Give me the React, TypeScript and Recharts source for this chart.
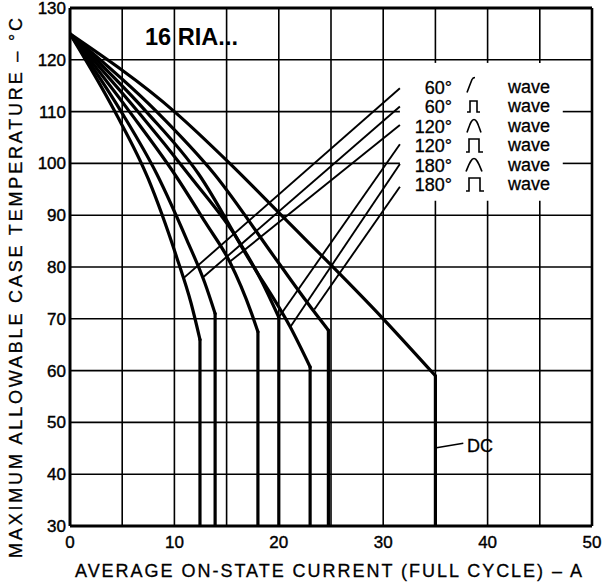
import React from 'react';
import { LineChart, Line, XAxis, YAxis, ReferenceLine } from 'recharts';

const xTicks = [0, 10, 20, 30, 40, 50];
const yTicks = [30, 40, 50, 60, 70, 80, 90, 100, 110, 120, 130];
const gridX = [5, 10, 15, 20, 25, 30, 35, 40, 45];
const gridY = [40, 50, 60, 70, 80, 90, 100, 110, 120];

// Curves: average on-state current (A) vs max case temperature (°C); last point = foot of vertical drop
const sine60I = [0, 4.3, 7.5, 10.2, 11.6, 12.45, 12.45];
const sine60T = [125, 110, 97, 82, 73, 66, 30];
const rect60I = [0, 4.9, 8.3, 11.2, 12.9, 13.9, 13.9];
const rect60T = [125, 110, 98, 85.2, 77, 71, 30];
const sine120I = [0, 5.7, 10, 13, 15.3, 17.4, 18, 18];
const sine120T = [125, 110, 98, 88.5, 81, 71, 67.5, 30];
const rect120I = [0, 6.5, 11.5, 16.1, 18.3, 20, 20];
const rect120T = [125, 110, 97.5, 85.2, 77.5, 70.3, 30];
const sine180I = [0, 7.3, 12.3, 17.2, 21.1, 23, 23];
const sine180T = [125, 110, 98, 81.3, 68.4, 60.7, 30];
const rect180I = [0, 8.3, 13.8, 19.8, 23.3, 24.75, 24.75];
const rect180T = [125, 110, 98, 81.3, 71.6, 67.8, 30];
const dcI = [0, 10, 15.3, 20, 30, 35, 35];
const dcT = [125, 110, 100, 90.5, 70, 59, 30];

// Leader lines from the labels to the curves
const leaderStartI = 31.6;
const leaderStartT = [114.5, 111, 107.4, 103.7, 99.9, 95.5];
const leaderEndI = [10.85, 12.8, 15.3, 20.0, 21.1, 23.4];
const leaderEndT = [77.8, 78.1, 81, 70.3, 68.4, 71.8];

const angleLabels = ['60°', '60°', '120°', '120°', '180°', '180°'];
const waveWord = 'wave';

// label box (data coords) that interrupts the grid
const boxI = [31.6, 47.2];
const boxT = [92.8, 119.4];

const toPts = (I: number[], T: number[]) => I.map((i, k) => ({ i, t: T[k] }));
const curveSets = [
  [sine60I, sine60T],
  [rect60I, rect60T],
  [sine120I, sine120T],
  [rect120I, rect120T],
  [sine180I, sine180T],
  [rect180I, rect180T],
  [dcI, dcT],
];
// sloped part (smooth) and vertical drop (straight)
const slopedParts = curveSets.map(([I, T]) => toPts(I.slice(0, -1), T.slice(0, -1)));
const dropParts = curveSets.map(([I, T]) => toPts(I.slice(-2), T.slice(-2)));
const leaders = leaderStartT.map((t, k) => [
  { i: leaderStartI, t },
  { i: leaderEndI[k], t: leaderEndT[k] },
]);

const FONT = '"Liberation Sans", Arial, Helvetica, sans-serif';

const rowCY = [87.5, 107, 126.5, 146, 165.5, 185];
const glyphs = [
  (c: number) => `M467,${c + 5} Q470,${c - 3} 472,${c - 8} Q473,${c - 10} 475,${c - 10}`,
  (c: number) => `M467,${c + 5} L470,${c + 5} L470,${c - 6} L477,${c - 6} L477,${c + 5} L480,${c + 5}`,
  (c: number) => `M467,${c + 6} C470,${c - 2} 471,${c - 7} 474,${c - 7} C477,${c - 7} 478,${c - 2} 481,${c + 6}`,
  (c: number) => `M466,${c + 6} L469,${c + 6} L469,${c - 7} L479,${c - 7} L479,${c + 6} L483,${c + 6}`,
  (c: number) => `M466,${c + 6} C469,${c - 1} 471,${c - 7} 474,${c - 7} C477,${c - 7} 479,${c - 1} 482,${c + 6}`,
  (c: number) => `M466,${c + 6} L469,${c + 6} L469,${c - 7} L480,${c - 7} L480,${c + 6} L484,${c + 6}`,
];

const gridStroke = { stroke: '#000', strokeWidth: 1.6 };
const textInk = { fill: '#000', stroke: '#000', strokeWidth: 0.4 };

export default function App() {
  return (
    <div style={{ position: 'absolute', left: 0, top: 0, width: 604, height: 584, background: '#fff', fontFamily: FONT }}>
      <LineChart width={604} height={584} margin={{ top: 8, right: 12, left: 0, bottom: 0 }}>
        <XAxis
          dataKey="i"
          type="number"
          domain={[0, 50]}
          ticks={xTicks}
          interval={0}
          height={58}
          tickLine={false}
          tickSize={0}
          tickMargin={10}
          axisLine={{ stroke: '#000', strokeWidth: 3 }}
          tick={{ ...textInk, fontSize: 17, fontFamily: FONT }}
          allowDataOverflow
        />
        <YAxis
          type="number"
          domain={[30, 130]}
          ticks={yTicks}
          interval={0}
          width={70}
          tickLine={false}
          tickSize={0}
          tickMargin={4}
          axisLine={{ stroke: '#000', strokeWidth: 3 }}
          tick={{ ...textInk, fontSize: 17, fontFamily: FONT }}
          allowDataOverflow
        />
        {gridY.map((v) =>
          v > boxT[0] && v < boxT[1] ? (
            <React.Fragment key={'gy' + v}>
              <ReferenceLine segment={[{ x: 0, y: v }, { x: boxI[0], y: v }]} {...gridStroke} ifOverflow="visible" />
              <ReferenceLine segment={[{ x: boxI[1], y: v }, { x: 50, y: v }]} {...gridStroke} ifOverflow="visible" />
            </React.Fragment>
          ) : (
            <ReferenceLine key={'gy' + v} y={v} {...gridStroke} />
          )
        )}
        {gridX.map((v) =>
          v > boxI[0] && v < boxI[1] ? (
            <React.Fragment key={'gx' + v}>
              <ReferenceLine segment={[{ x: v, y: 30 }, { x: v, y: boxT[0] }]} {...gridStroke} ifOverflow="visible" />
              <ReferenceLine segment={[{ x: v, y: boxT[1] }, { x: v, y: 130 }]} {...gridStroke} ifOverflow="visible" />
            </React.Fragment>
          ) : (
            <ReferenceLine key={'gx' + v} x={v} {...gridStroke} />
          )
        )}
        <ReferenceLine y={130} stroke="#000" strokeWidth={3} />
        <ReferenceLine x={50} stroke="#000" strokeWidth={2.6} />
        {leaders.map((pts, k) => (
          <Line
            key={'l' + k}
            data={pts}
            dataKey="t"
            type="linear"
            stroke="#000"
            strokeWidth={1.9}
            dot={false}
            activeDot={false}
            isAnimationActive={false}
          />
        ))}
        {slopedParts.map((pts, k) => (
          <Line
            key={'c' + k}
            data={pts}
            dataKey="t"
            type="monotoneX"
            stroke="#000"
            strokeWidth={3.2}
            strokeLinejoin="round"
            strokeLinecap="round"
            dot={false}
            activeDot={false}
            isAnimationActive={false}
          />
        ))}
        {dropParts.map((pts, k) => (
          <Line
            key={'d' + k}
            data={pts}
            dataKey="t"
            type="linear"
            stroke="#000"
            strokeWidth={3.2}
            strokeLinecap="round"
            dot={false}
            activeDot={false}
            isAnimationActive={false}
          />
        ))}
      </LineChart>
      <svg
        width={604}
        height={584}
        style={{ position: 'absolute', left: 0, top: 0, pointerEvents: 'none' }}
      >
        <text x={145} y={45} fontSize={23} fontWeight="bold" fontFamily={FONT} fill="#000" textLength={93} lengthAdjust="spacingAndGlyphs">
          16 RIA...
        </text>
        {angleLabels.map((a, k) => (
          <g key={'lab' + k}>
            <text x={452} y={rowCY[k] + 6} fontSize={18} fontFamily={FONT} {...textInk} strokeWidth={0.3} textAnchor="end">
              {a}
            </text>
            <path d={glyphs[k](rowCY[k])} fill="none" stroke="#000" strokeWidth={1.6} />
            <text x={508} y={rowCY[k] + 5} fontSize={18} fontFamily={FONT} {...textInk} strokeWidth={0.3}>
              {waveWord}
            </text>
          </g>
        ))}
        <line x1={436.5} y1={447.7} x2={463.3} y2={443.3} stroke="#000" strokeWidth={1.6} />
        <text x={467} y={451.5} fontSize={18} fontFamily={FONT} {...textInk} strokeWidth={0.3}>
          DC
        </text>
        <text x={75} y={577} fontSize={18} fontFamily={FONT} {...textInk} strokeWidth={0.3} textLength={507} lengthAdjust="spacing">
          AVERAGE ON-STATE CURRENT (FULL CYCLE) – A
        </text>
        <text
          x={0}
          y={0}
          transform="translate(22,288) rotate(-90)"
          fontSize={18}
          fontFamily={FONT}
          {...textInk}
          strokeWidth={0.3}
          textAnchor="middle"
          textLength={540}
          lengthAdjust="spacing"
        >
          MAXIMUM ALLOWABLE CASE TEMPERATURE – °C
        </text>
      </svg>
    </div>
  );
}
